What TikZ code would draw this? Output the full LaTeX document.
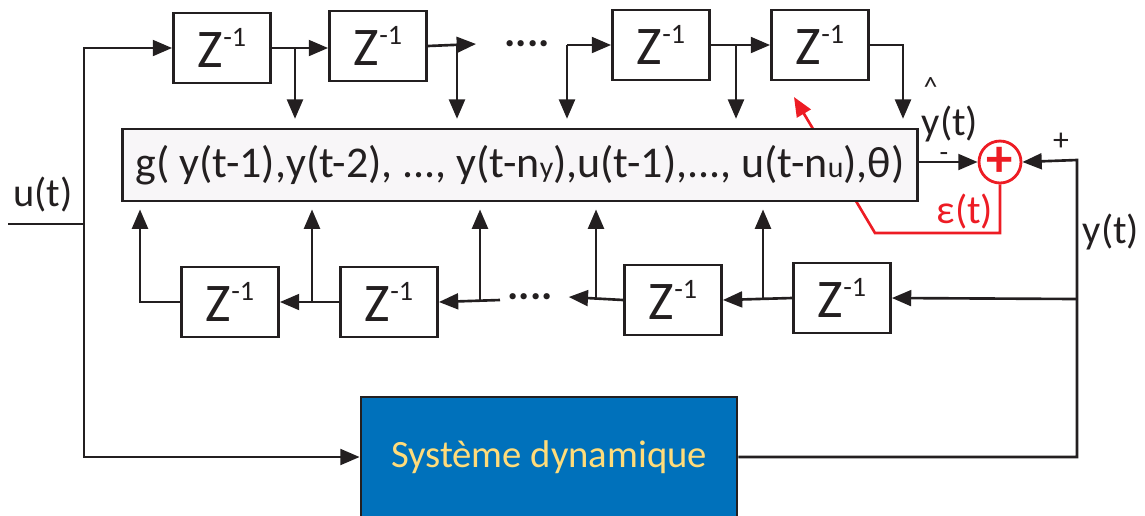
\documentclass[tikz,border=0pt]{standalone}
\usepackage{fontspec}
\setmainfont{Carlito}
\usetikzlibrary{arrows.meta,positioning,calc,backgrounds}

\definecolor{ink}{HTML}{231F20}
\definecolor{errred}{HTML}{ED1C24}
\definecolor{sysblue}{HTML}{0071BB}
\definecolor{sysyellow}{HTML}{FFDC7A}
\definecolor{gfill}{HTML}{F8F6F8}

\newcommand{\zinv}{Z\raisebox{12pt}{\fontsize{16}{16}\selectfont -1}}

\begin{document}
\begin{tikzpicture}[x=0.02cm, y=-0.02cm, draw=ink, text=ink,
        delay/.style={rectangle, draw, line width=1.6pt, fill=white, minimum width=1.94cm, minimum height=1.4cm, inner sep=0pt, font=\fontsize{31}{31}\selectfont},
        conn/.style={line width=1.5pt, -{Triangle[length=11pt,width=9pt]}},
        wire/.style={line width=1.5pt},
        lbl/.style={inner sep=0pt, font=\fontsize{23}{23}\selectfont},
        sign/.style={inner sep=0pt, text height=0.6em, text depth=0pt, font=\fontsize{16}{16}\selectfont},
        dotsnode/.style={inner sep=0pt, font=\fontsize{24}{24}\selectfont\bfseries}]
    \useasboundingbox (0,0) rectangle (1145,515);

    % model block and the real system
    \node(g) [rectangle, draw, line width=1.6pt, fill=gfill, minimum width=15.9cm, minimum height=1.44cm, inner sep=0pt, font=\fontsize{25}{25}\selectfont] at (520,165)
        {g( y(t-1),y(t-2), ..., y(t-n{\fontsize{17}{17}\selectfont y}),u(t-1),..., u(t-n{\fontsize{17}{17}\selectfont u}),θ)};
    \node(sys) [rectangle, draw, line width=1.6pt, fill=sysblue, text=sysyellow, minimum width=7.52cm, minimum height=2.4cm, inner sep=0pt, font=\fontsize{22}{22}\selectfont] at (549,457) {Système dynamique};
    \node(sum) [circle, draw=errred, line width=1.6pt, fill=white, minimum size=0.84cm, inner sep=0pt, text=errred, font=\fontsize{30}{30}\selectfont\bfseries] at (1000,162) {+};

    % delay lines, top row (u) and bottom row (y)
    \node(zt1) [delay] at (222,48) {\zinv};
    \node(zt2) [delay] at (378,46) {\zinv};
    \node(dotst) [dotsnode] at (527,44) {....};
    \node(zt3) [delay] at (661,45) {\zinv};
    \node(zt4) [delay] at (820,45) {\zinv};

    \node(zb1) [delay] at (230,302) {\zinv};
    \node(zb2) [delay] at (389,302) {\zinv};
    \node(dotsb) [dotsnode] at (530,297) {....};
    \node(zb3) [delay] at (673,300) {\zinv};
    \node(zb4) [delay] at (842,298) {\zinv};

    % labels
    \node(ulbl) [lbl] at (43,195) {u(t)};
    \node(ylbl) [lbl] at (1111,232) {y(t)};
    \node(epslbl) [lbl, text=errred] at (965,212) {ε(t)};
    \node(yhatlbl) [lbl] at (950,110) {\rlap{\kern1pt\raisebox{22pt}{\fontsize{16}{16}\selectfont\textasciicircum}}y(t)};
    \node(minuslbl) [sign] at (944,156) {-};
    \node(pluslbl) [sign, font=\fontsize{18}{18}\selectfont] at (1061,145) {+};

    % branch points
    \coordinate (usplit) at (84,224);
    \coordinate (uin) at (8,224);
    \coordinate (tb1) at (295,48);
    \coordinate (tb2) at (457,46);
    \coordinate (tb3) at (567,45);
    \coordinate (tb4) at (736,45);
    \coordinate (tb5) at (903,45);
    \coordinate (yturn) at (1077,160);
    \coordinate (ysplit) at (1077,299);
    \coordinate (bb4) at (763,299);
    \coordinate (bb3) at (596,300);
    \coordinate (bstart) at (500,300);
    \coordinate (bb2) at (480,300);
    \coordinate (bb1) at (312,302);
    \coordinate (bb0) at (140,302);
    \coordinate (epsc) at (875,233);
    \coordinate (thetatip) at (794,97);

    % input u(t)
    \draw[wire] (uin) -- (usplit);
    \draw[conn] (usplit) |- (zt1.west);
    \draw[conn] (usplit) |- (sys.west);

    % top row
    \draw[conn] (zt1.east) -- (zt1.east -| zt2.west);
    \draw[conn] (zt2.east) -- ([xshift=-16pt]dotst.west);
    \draw[conn] (tb3) -- (zt3.west);
    \draw[conn] (zt3.east) -- (zt4.west);
    \draw[conn] (zt4.east) -- (tb5) -- ([yshift=5pt]tb5 |- g.north);
    \foreach \b in {tb1,tb2,tb3,tb4}
        \draw[conn] (\b) -- ([yshift=5pt]\b |- g.north);

    % output y(t)
    \draw[conn] (sys.east) -| (yturn) -- (sum.east);
    \draw[conn] (ysplit) -- (zb4.east);
    \draw[conn] (g.east |- sum.west) -- (sum.west);

    % bottom row
    \draw[conn] (zb4.west) -- (zb3.east);
    \draw[conn] (zb3.west) -- ([xshift=9pt]dotsb.east);
    \draw[conn] (bstart) -- (zb2.east);
    \draw[conn] (zb2.west) -- (zb1.east);
    \draw[conn] (zb1.west) -- (bb0) -- ([yshift=-4pt]bb0 |- g.south);
    \foreach \b in {bb1,bb2,bb3,bb4}
        \draw[conn] (\b) -- ([yshift=-4pt]\b |- g.south);

    % error fed back to the parameters
    \begin{pgfonlayer}{background}
        \draw[errred, line width=1.5pt, -{Triangle[length=11pt,width=9pt]}] (sum.south) |- (epsc) -- (thetatip);
    \end{pgfonlayer}
\end{tikzpicture}
\end{document}
